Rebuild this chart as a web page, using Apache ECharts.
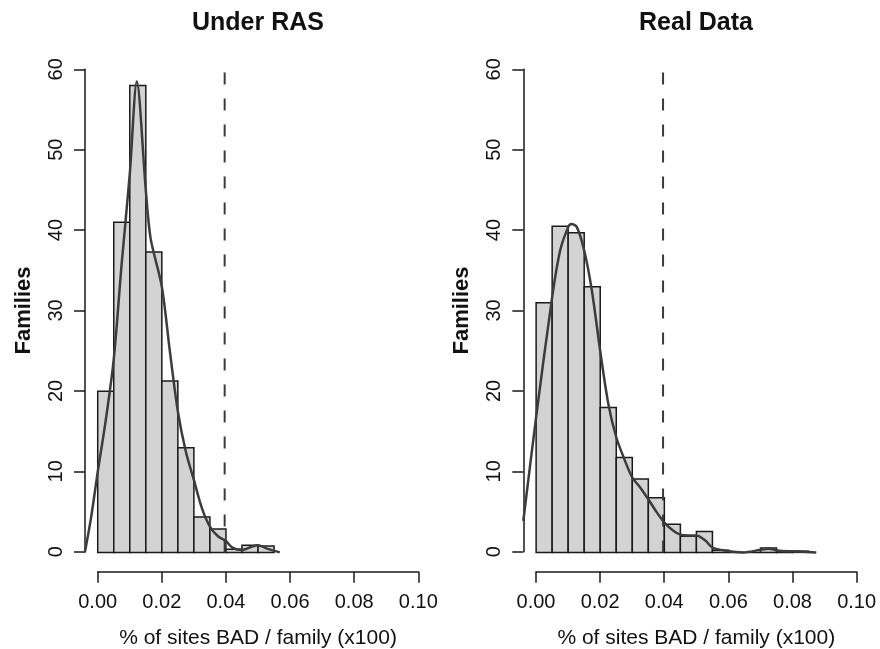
<!DOCTYPE html>
<html>
<head>
<meta charset="utf-8">
<script src="https://cdn.jsdelivr.net/npm/echarts@6/dist/echarts.min.js"></script>
<style>
  html, body { margin: 0; padding: 0; background: #fff; }
  #main { width: 880px; height: 649px; }
</style>
</head>
<body>
<div id="main"></div>
<script>
// histogram bins are 0.005 wide, starting at 0
var binWidth = 0.005;
var threshold = 0.0396;

var rasCounts = [20, 41, 58, 37.3, 21.3, 13, 4.4, 2.9, 0.4, 0.9, 0.8];
var realCounts = [31, 40.5, 39.7, 33, 18, 11.8, 9.1, 6.8, 3.5, 2.0, 2.6, 0.25, 0, 0, 0.55, 0.2, 0.15];

// density curves (scaled to counts)
var rasDensX = [-0.004, -0.002, 0, 0.0025, 0.005, 0.0075, 0.01, 0.0122, 0.015, 0.0165, 0.02, 0.0225, 0.025, 0.0275, 0.03, 0.0325, 0.035, 0.0375, 0.04, 0.042, 0.045, 0.048, 0.05, 0.0526, 0.0568];
var rasDensY = [0, 4.5, 10, 16.4, 24, 36, 47, 58.5, 45, 39, 33, 25, 17.5, 12.5, 9, 5.5, 3.2, 2, 1.4, 0.6, 0.3, 0.7, 0.9, 0.5, 0];

var realDensX = [-0.004, 0, 0.005, 0.0075, 0.01, 0.011, 0.0127, 0.015, 0.0174, 0.02, 0.0225, 0.025, 0.0277, 0.03, 0.0324, 0.035, 0.0376, 0.04, 0.0428, 0.045, 0.0474, 0.05, 0.0527, 0.055, 0.0594, 0.0646, 0.0698, 0.0724, 0.076, 0.0822, 0.0874];
var realDensY = [3.9, 16.8, 31.7, 37.5, 40.4, 40.8, 40.4, 37.5, 32.5, 25, 18.5, 14.3, 11.4, 9.3, 8.1, 6.6, 5, 3.7, 2.7, 2.2, 2.1, 2.1, 1.5, 0.6, 0.2, 0, 0.3, 0.45, 0.2, 0.1, 0];

var panelTitles = ['Under RAS', 'Real Data'];
var xName = '% of sites BAD / family (x100)';
var yName = 'Families';

var font = 'Liberation Sans, Arial, Helvetica, sans-serif';
var ink = '#1a1a1a';

function toBars(counts) {
  return counts.map(function (c, i) { return [i * binWidth, c]; });
}
function toPairs(xs, ys) {
  return xs.map(function (x, i) { return [x, ys[i]]; });
}

function renderBar(params, api) {
  var x0 = api.value(0);
  var h = api.value(1);
  var p0 = api.coord([x0, h]);
  var p1 = api.coord([x0 + binWidth, 0]);
  return {
    type: 'rect',
    shape: { x: p0[0], y: p0[1], width: p1[0] - p0[0], height: p1[1] - p0[1] },
    style: { fill: '#d3d3d3', stroke: ink, lineWidth: 1.5 }
  };
}

// visible R-style axes (grids 0,1) span only the tick range
function makeX(idx) {
  return {
    type: 'value', gridIndex: idx, min: 0, max: 0.1, interval: 0.02, offset: 20,
    splitLine: { show: false },
    axisLine: { show: true, onZero: false, lineStyle: { color: ink, width: 1.5 } },
    axisTick: { show: true, length: 11, lineStyle: { color: ink, width: 1.5 } },
    axisLabel: {
      margin: 21, color: '#111', fontSize: 20, fontFamily: font,
      formatter: function (v) { return v.toFixed(2); }
    },
    name: xName, nameLocation: 'middle', nameGap: 56,
    nameTextStyle: { color: '#111', fontSize: 21, fontFamily: font }
  };
}
function makeY(idx) {
  return {
    type: 'value', gridIndex: idx, min: 0, max: 60, interval: 10, offset: 12.7,
    splitLine: { show: false },
    axisLine: { show: true, onZero: false, lineStyle: { color: ink, width: 1.5 } },
    axisTick: { show: true, length: 11, lineStyle: { color: ink, width: 1.5 } },
    axisLabel: { rotate: 90, margin: 19, color: '#111', fontSize: 20, fontFamily: font },
    name: yName, nameLocation: 'middle', nameGap: 50,
    nameTextStyle: { color: '#111', fontSize: 22, fontWeight: 'bold', fontFamily: font }
  };
}
// hidden data axes (grids 2,3) with R's 4% padding
function dataX(idx) {
  return { type: 'value', gridIndex: idx, min: -0.004, max: 0.104, show: false };
}
function dataY(idx) {
  return { type: 'value', gridIndex: idx, min: -2.4, max: 62.4, show: false };
}

function panelSeries(idx, counts, dx, dy) {
  return [
    {
      type: 'custom', xAxisIndex: idx, yAxisIndex: idx,
      renderItem: renderBar, data: toBars(counts), z: 2
    },
    {
      type: 'line', xAxisIndex: idx, yAxisIndex: idx, smooth: 0.3,
      symbol: 'none', data: toPairs(dx, dy), z: 4,
      lineStyle: { color: '#3c3c3c', width: 2.5 }
    },
    {
      type: 'line', xAxisIndex: idx, yAxisIndex: idx, symbol: 'none', z: 3,
      data: [[threshold, 0], [threshold, 60]],
      lineStyle: { color: '#3a3a3a', width: 2, type: [12, 14] }
    }
  ];
}

var chart = echarts.init(document.getElementById('main'));
var option = {
  backgroundColor: '#fff',
  animation: false,
  graphic: [
    { type: 'text', x: 258, y: 23, style: { text: panelTitles[0], textAlign: 'center', textVerticalAlign: 'middle', fontSize: 25, fontWeight: 'bold', fontFamily: font, fill: '#111' } },
    { type: 'text', x: 696, y: 23, style: { text: panelTitles[1], textAlign: 'center', textVerticalAlign: 'middle', fontSize: 25, fontWeight: 'bold', fontFamily: font, fill: '#111' } }
  ],
  grid: [
    { left: 97.7, top: 69.3, width: 320.6, height: 482.4, outerBoundsMode: 'none' },
    { left: 536, top: 69.3, width: 320.6, height: 482.4, outerBoundsMode: 'none' },
    { left: 84.9, top: 50, width: 346.2, height: 521.7, outerBoundsMode: 'none' },
    { left: 523.3, top: 50, width: 346.2, height: 521.7, outerBoundsMode: 'none' }
  ],
  xAxis: [makeX(0), makeX(1), dataX(2), dataX(3)],
  yAxis: [makeY(0), makeY(1), dataY(2), dataY(3)],
  series: panelSeries(2, rasCounts, rasDensX, rasDensY)
    .concat(panelSeries(3, realCounts, realDensX, realDensY))
};
chart.setOption(option);
</script>
</body>
</html>
